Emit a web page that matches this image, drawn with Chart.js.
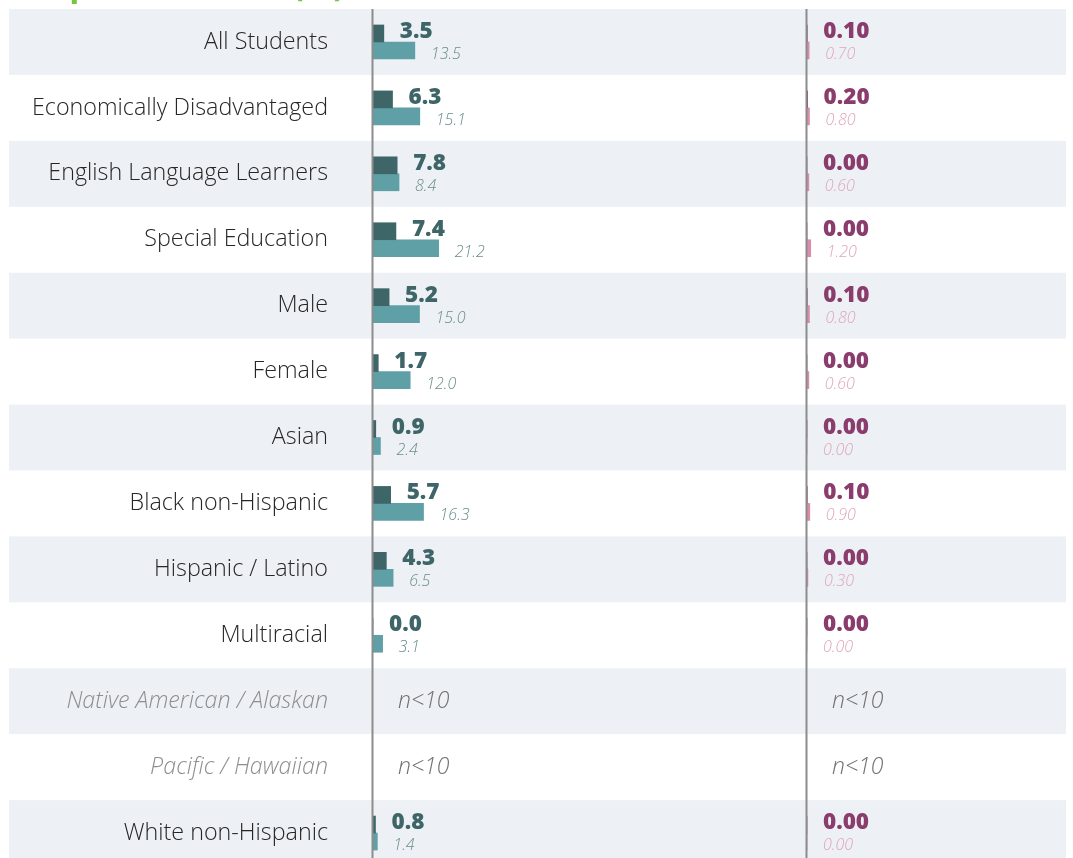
<!DOCTYPE html>
<html>
<head>
<meta charset="utf-8">
<script src="https://cdn.jsdelivr.net/npm/chart.js@4.4.1/dist/chart.umd.min.js"></script>
<style>
html, body { margin: 0; padding: 0; background: #fff; overflow: hidden; }
#wrap { position: relative; width: 1073px; height: 866px; }
</style>
</head>
<body>
<div id="wrap"><canvas id="myChart_rates" width="1073" height="866"></canvas></div>
<script>
// student groups, top to bottom
const groups = ['All Students', 'Economically Disadvantaged', 'English Language Learners', 'Special Education',
    'Male', 'Female', 'Asian', 'Black non-Hispanic', 'Hispanic / Latino', 'Multiracial',
    'Native American / Alaskan', 'Pacific / Hawaiian', 'White non-Hispanic']

// left panel (null = n<10)
const susp_school = [3.5, 6.3, 7.8, 7.4, 5.2, 1.7, 0.9, 5.7, 4.3, 0.0, null, null, 0.8]
const susp_compare = [13.5, 15.1, 8.4, 21.2, 15.0, 12.0, 2.4, 16.3, 6.5, 3.1, null, null, 1.4]

// right panel
const expel_school = [0.10, 0.20, 0.00, 0.00, 0.10, 0.00, 0.00, 0.10, 0.00, 0.00, null, null, 0.00]
const expel_compare = [0.70, 0.80, 0.60, 1.20, 0.80, 0.60, 0.00, 0.90, 0.30, 0.00, null, null, 0.00]

const title_text = 'Suspension Rate (%)'
const small_n_text = 'n<10'

const FONT = "'Open Sans', sans-serif"
Chart.defaults.font.family = FONT

// how the value next to each bar is written
const value_styles = [
    {font: '800 22.5px ' + FONT, color: '#3e6567', digits: 1, dy: 4.5},
    {font: 'italic 300 16px ' + FONT, color: '#6b8d8e', digits: 1, dy: 8.5},
    {font: '800 22.5px ' + FONT, color: '#8a3d6d', digits: 2, dy: 4.5},
    {font: 'italic 300 16px ' + FONT, color: '#e0a5ba', digits: 2, dy: 8.5},
]

const row_bands = {
    id: 'row_bands',
    beforeDraw(chart) {
        const {ctx, chartArea, scales} = chart
        const y = scales.y
        const h = chartArea.height / groups.length
        ctx.save()
        ctx.fillStyle = '#edf1f5'
        groups.forEach((g, i) => {
            if (i % 2) return
            const c = y.getPixelForValue(i)
            ctx.fillRect(9, c - h / 2, chartArea.right - 9, h)
        })
        // green heading, only its lower edge shows at the top
        ctx.font = 'bold 33px ' + FONT
        ctx.fillStyle = '#7cc242'
        ctx.textBaseline = 'alphabetic'
        ctx.fillText(title_text, 13, -4)
        ctx.restore()
    }
}

const zero_lines = {
    id: 'zero_lines',
    afterDatasetsDraw(chart) {
        const {ctx, chartArea, scales} = chart
        ctx.save()
        ctx.strokeStyle = '#8c8c8c'
        ctx.lineWidth = 2
        ;['x', 'x2'].forEach(id => {
            const px = Math.round(scales[id].getPixelForValue(0)) - 0.5
            ctx.beginPath()
            ctx.moveTo(px, chartArea.top)
            ctx.lineTo(px, chartArea.bottom)
            ctx.stroke()
        })
        ctx.restore()
    }
}

const value_labels = {
    id: 'value_labels',
    afterDatasetsDraw(chart) {
        const {ctx, scales} = chart
        ctx.save()
        ctx.textAlign = 'left'
        ctx.textBaseline = 'alphabetic'
        chart.data.datasets.forEach((ds, d) => {
            const meta = chart.getDatasetMeta(d)
            const st = value_styles[d]
            ds.data.forEach((v, i) => {
                if (v === null) {
                    // too few students: note once per panel
                    if (d % 2) return
                    const zero = scales[ds.xAxisID].getPixelForValue(0)
                    ctx.font = 'italic 300 23px ' + FONT
                    ctx.fillStyle = '#707070'
                    ctx.fillText(small_n_text, zero + 25, scales.y.getPixelForValue(i) + 7)
                    return
                }
                const bar = meta.data[i]
                ctx.font = st.font
                ctx.fillStyle = st.color
                ctx.fillText(v.toFixed(st.digits), bar.x + 16, bar.y + st.dy)
            })
        })
        ctx.restore()
    }
}

const chart_rates = document.getElementById('myChart_rates')
new Chart(chart_rates, {
    type: 'bar',
    data: {
        labels: groups,
        datasets: [
            {label: 'school', data: susp_school, xAxisID: 'x', stack: 'top', backgroundColor: '#3e6567'},
            {label: 'compare', data: susp_compare, xAxisID: 'x', stack: 'bottom', backgroundColor: '#5f9fa6'},
            {label: 'school', data: expel_school, xAxisID: 'x2', stack: 'top', backgroundColor: '#8a3d6d'},
            {label: 'compare', data: expel_compare, xAxisID: 'x2', stack: 'bottom', backgroundColor: '#d98dab'},
        ]
    },
    options: {
        indexAxis: 'y',
        responsive: false,
        animation: false,
        layout: {
            padding: {top: 9, right: 7, left: 0, bottom: 0}
        },
        datasets: {
            bar: {barThickness: 17, borderWidth: 0}
        },
        scales: {
            y: {
                afterFit: s => {
                    s.width = 373
                    s.paddingTop = 0
                    s.paddingBottom = 0
                },
                grid: {display: false, drawTicks: false},
                border: {display: false},
                ticks: {
                    padding: 45,
                    font: c => susp_school[c.index] === null
                        ? {size: 23.3, style: 'italic', weight: 300}
                        : {size: 23.3, weight: 300},
                    color: c => susp_school[c.index] === null ? '#8e8e8e' : '#262626',
                }
            },
            x: {
                type: 'linear',
                position: 'bottom',
                min: 0,
                max: 140,
                display: false,
                stack: 'panels',
                stackWeight: 434,
            },
            x2: {
                type: 'linear',
                axis: 'x',
                position: 'bottom',
                min: 0,
                max: 83.5,
                display: false,
                stack: 'panels',
                stackWeight: 259,
            },
        },
        plugins: {
            legend: {display: false},
            tooltip: {enabled: false},
        }
    },
    plugins: [row_bands, zero_lines, value_labels]
})
</script>
</body>
</html>
